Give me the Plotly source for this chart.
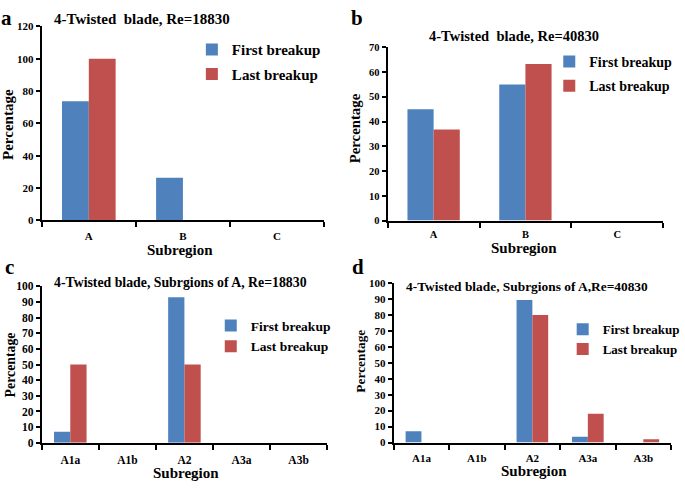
import plotly.graph_objects as go

W, H = 685, 489

# ---------------- data ----------------
cats_ab = ["A", "B", "C"]
cats_cd = ["A1a", "A1b", "A2", "A3a", "A3b"]

a_first = [73.7, 26.3, 0]
a_last = [100, 0, 0]
b_first = [45, 55, 0]
b_last = [36.8, 63.2, 0]
c_first = [7.1, 0, 92.9, 0, 0]
c_last = [50, 0, 50, 0, 0]
d_first = [7.1, 0, 89.3, 3.6, 0]
d_last = [0, 0, 80, 18, 2]

series_names = ["First breakup", "Last breakup"]
titles = ["4-Twisted&nbsp; blade, Re=18830",
          "4-Twisted&nbsp; blade, Re=40830",
          "4-Twisted blade, Subrgions of A, Re=18830",
          "4-Twisted blade, Subrgions of A,Re=40830"]
panel_letters = ["a", "b", "c", "d"]
y_ranges = [120, 70, 100, 100]
y_dticks = [20, 10, 10, 10]

BLUE = "#4F81BD"
RED = "#C0504D"
FONT = "Liberation Serif"


def px(x):
    return x / W


def py(y):
    return 1 - y / H


# panel geometry in pixels: (x0, x1, ytop, ybottom)
geom = [(42, 326, 21, 219.7),
        (390, 667, 42.3, 220),
        (42, 329, 287.3, 447.8),
        (396, 675, 284, 447.5)]

panels = [(cats_ab, a_first, a_last), (cats_ab, b_first, b_last),
          (cats_cd, c_first, c_last), (cats_cd, d_first, d_last)]

fig = go.Figure()
legend_keys = ["legend", "legend2", "legend3", "legend4"]

for i, (cats, f, l) in enumerate(panels):
    xa = "x" if i == 0 else f"x{i+1}"
    ya = "y" if i == 0 else f"y{i+1}"
    for name, vals, col in ((series_names[0], f, BLUE), (series_names[1], l, RED)):
        fig.add_trace(go.Bar(x=cats, y=vals, name=name, marker_color=col,
                             marker_line_width=0, xaxis=xa, yaxis=ya,
                             legend=legend_keys[i], legendgroup=f"{name}{i}",
                             showlegend=True, hoverinfo="skip"))

tick_sizes = [11, 10.5, 11.5, 11]
standoffs = [4, 3, 5, 4]
layout_axes = {}
for i, (x0, x1, yt, yb) in enumerate(geom):
    xk = "xaxis" if i == 0 else f"xaxis{i+1}"
    yk = "yaxis" if i == 0 else f"yaxis{i+1}"
    ya = "y" if i == 0 else f"y{i+1}"
    xa = "x" if i == 0 else f"x{i+1}"
    layout_axes[xk] = dict(domain=[px(x0), px(x1)], anchor=ya, showline=True,
                           linecolor="black", linewidth=2, showgrid=False,
                           ticks="outside", tickson="boundaries", ticklen=5,
                           tickwidth=1.5, tickcolor="black",
                           ticklabelstandoff=standoffs[i],
                           tickfont=dict(family=FONT, size=tick_sizes[i], color="black",
                                         weight="bold"))
    layout_axes[yk] = dict(domain=[py(yb), py(yt)], anchor=xa, showline=True,
                           linecolor="black", linewidth=2, showgrid=False,
                           range=[0, y_ranges[i]], dtick=y_dticks[i],
                           ticks="outside", ticklen=4, tickwidth=1.5,
                           tickcolor="black", zeroline=False,
                           tickfont=dict(family=FONT, size=tick_sizes[i], color="black",
                                         weight="bold"))

# legend placement (pixels: left x, top y, font size, gap between items)
leg_pos = [(193, 28, 15, 2), (552.5, 41, 14, 3), (212, 312, 13.5, 0), (566, 316, 13, 0)]
legends = {}
for i, (lx, ly, fs, gap) in enumerate(leg_pos):
    legends[legend_keys[i]] = dict(x=px(lx), y=py(ly), xanchor="left", yanchor="top",
                                   bgcolor="rgba(0,0,0,0)", tracegroupgap=gap,
                                   font=dict(family=FONT, size=fs, color="black",
                                             weight="bold"))

annotations = []
# titles
title_pos = [(143, 13, 15), (517.5, 31, 14.5), (181.7, 283.5, 13.8), (530, 288, 13.4)]
for t, (x, y, fs) in zip(titles, title_pos):
    annotations.append(dict(text=t, x=px(x), y=py(y), xref="paper", yref="paper",
                            showarrow=False, xanchor="center", yanchor="middle",
                            font=dict(family=FONT, size=fs, color="black", weight="bold")))
# panel letters
letter_pos = [(7, 12), (359, 12), (10, 268), (360, 268)]
for t, (x, y) in zip(panel_letters, letter_pos):
    annotations.append(dict(text=t, x=px(x), y=py(y), xref="paper", yref="paper",
                            showarrow=False, xanchor="center", yanchor="middle",
                            font=dict(family=FONT, size=21, color="black", weight="bold")))
# x axis titles
sub_pos = [(181, 250.5), (527, 248.5), (187, 479), (536.7, 476.5)]
for (x, y) in sub_pos:
    annotations.append(dict(text="Subregion", x=px(x), y=py(y), xref="paper", yref="paper",
                            showarrow=False, xanchor="center", yanchor="middle",
                            font=dict(family=FONT, size=15, color="black", weight="bold")))
# y axis titles
perc_pos = [(8, 121, 15), (357.5, 125, 14.8), (11, 367.5, 13.8), (363, 363.7, 13.4)]
for (x, y, fs) in perc_pos:
    annotations.append(dict(text="Percentage", x=px(x), y=py(y), xref="paper", yref="paper",
                            showarrow=False, xanchor="center", yanchor="middle",
                            textangle=-90,
                            font=dict(family=FONT, size=fs, color="black", weight="bold")))

fig.update_layout(width=W, height=H, autosize=False,
                  margin=dict(l=0, r=0, t=0, b=0),
                  paper_bgcolor="white", plot_bgcolor="white",
                  barmode="group", bargap=0.43, bargroupgap=0,
                  annotations=annotations, **layout_axes, **legends)

fig.write_html("out.html", config={"displayModeBar": False},
               post_script="document.body.style.margin='0px';")
